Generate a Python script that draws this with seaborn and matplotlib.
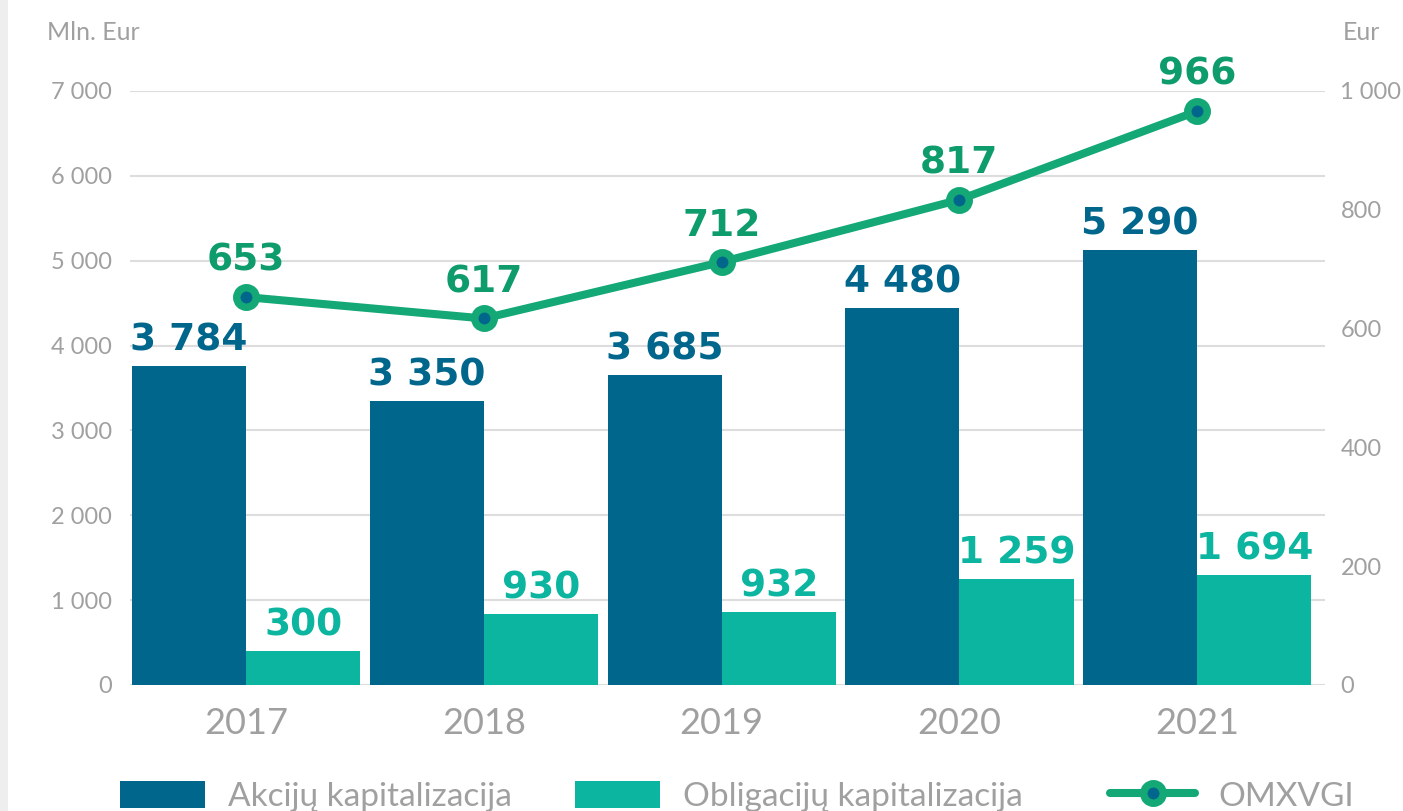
import pandas as pd
import matplotlib.pyplot as plt
import seaborn as sns
from matplotlib.patches import Patch, Rectangle
from matplotlib.lines import Line2D
from matplotlib.ticker import FuncFormatter

# data
years = ["2017", "2018", "2019", "2020", "2021"]
akcijos = [3760, 3345, 3655, 4445, 5125]          # bar heights as drawn
obligacijos = [400, 835, 860, 1250, 1295]
akcijos_labels = ["3 784", "3 350", "3 685", "4 480", "5 290"]
obligacijos_labels = ["300", "930", "932", "1 259", "1 694"]
omxvgi = [653, 617, 712, 817, 966]
omxvgi_labels = ["653", "617", "712", "817", "966"]

c_akc = "#00668c"
c_obl = "#0bb59f"
c_line = "#13a876"
c_line_txt = "#0e9c6c"
c_gray = "#a0a0a0"

df = pd.DataFrame({
    "year": years * 2,
    "value": akcijos + obligacijos,
    "series": ["Akcijų kapitalizacija"] * 5 + ["Obligacijų kapitalizacija"] * 5,
})

sns.set_style("white")
plt.rcParams["font.family"] = ["Lato", "DejaVu Sans"]

fig = plt.figure(figsize=(14.03, 8.11), dpi=100)
fig.patches.append(Rectangle((0, 0), 8 / 1403, 1, transform=fig.transFigure,
                             facecolor="#eeeeee", edgecolor="none"))
ax = fig.add_axes([0.0927, 0.1554, 0.8518, 0.7324])

sns.barplot(data=df, x="year", y="value", hue="series",
            palette=[c_akc, c_obl], width=0.96, gap=0, saturation=1,
            linewidth=0, ax=ax, legend=False)

ax.set_xlim(-0.488, 4.538)
ax.set_ylim(0, 7000)
ax.set_yticks(range(0, 7001, 1000))
ax.yaxis.set_major_formatter(FuncFormatter(lambda v, p: f"{v:,.0f}".replace(",", " ")))
ax.grid(axis="y", color="#dddddd", linewidth=1.5)
ax.set_axisbelow(True)
ax.set_xlabel("")
ax.set_ylabel("")
for s in ax.spines.values():
    s.set_visible(False)
ax.tick_params(axis="y", length=0, pad=13, labelsize=17, labelcolor=c_gray)
ax.tick_params(axis="x", length=0, pad=16, labelsize=26, labelcolor=c_gray)

# value labels above bars
for cont, labels, col in zip(ax.containers, [akcijos_labels, obligacijos_labels], [c_akc, c_obl]):
    for bar, txt in zip(cont, labels):
        ax.annotate(txt, (bar.get_x() + bar.get_width() / 2, bar.get_height()),
                    xytext=(0, 11), textcoords="offset points", ha="center", va="baseline",
                    fontsize=27, fontweight="bold", color=col, family="DejaVu Sans")

# OMXVGI line on right axis
ax2 = ax.twinx()
sns.lineplot(x=years, y=omxvgi, ax=ax2, color=c_line, linewidth=5.8, sort=False,
             marker="o", markersize=14, markerfacecolor=c_akc,
             markeredgecolor=c_line, markeredgewidth=5.4)
ax2.set_ylim(0, 1000)
ax2.set_yticks(range(0, 1001, 200))
ax2.yaxis.set_major_formatter(FuncFormatter(lambda v, p: f"{v:,.0f}".replace(",", " ")))
for s in ax2.spines.values():
    s.set_visible(False)
ax2.tick_params(axis="y", length=0, pad=11, labelsize=17, labelcolor=c_gray)
ax2.grid(False)
ax2.set_ylabel("")

for i, (v, txt) in enumerate(zip(omxvgi, omxvgi_labels)):
    ax2.annotate(txt, (i, v), xytext=(0, 19), textcoords="offset points",
                 ha="center", va="baseline", fontsize=27, fontweight="bold",
                 color=c_line_txt, family="DejaVu Sans")

fig.text(47 / 1403, 1 - 33 / 811, "Mln. Eur", fontsize=18, color=c_gray,
         va="center", ha="left")
fig.text(1343 / 1403, 1 - 33 / 811, "Eur", fontsize=18, color=c_gray,
         va="center", ha="left")

# legend: one entry each, placed at the reference positions
entries = [
    (Patch(facecolor=c_akc, edgecolor="none"), "Akcijų kapitalizacija", 120),
    (Patch(facecolor=c_obl, edgecolor="none"), "Obligacijų kapitalizacija", 575),
    (Line2D([], [], color=c_line, linewidth=5.8, marker="o", markersize=14,
            markerfacecolor=c_akc, markeredgecolor=c_line, markeredgewidth=5.4),
     "OMXVGI", 1110),
]
for h, lab, x0 in entries:
    fig.legend([h], [lab], loc="center left", bbox_to_anchor=(x0 / 1403, 0.018),
               frameon=False, fontsize=24, handlelength=2.55, handleheight=0.9,
               handletextpad=0.7, borderpad=0, borderaxespad=0, labelcolor=c_gray)

fig.savefig("out.png", dpi=100)
